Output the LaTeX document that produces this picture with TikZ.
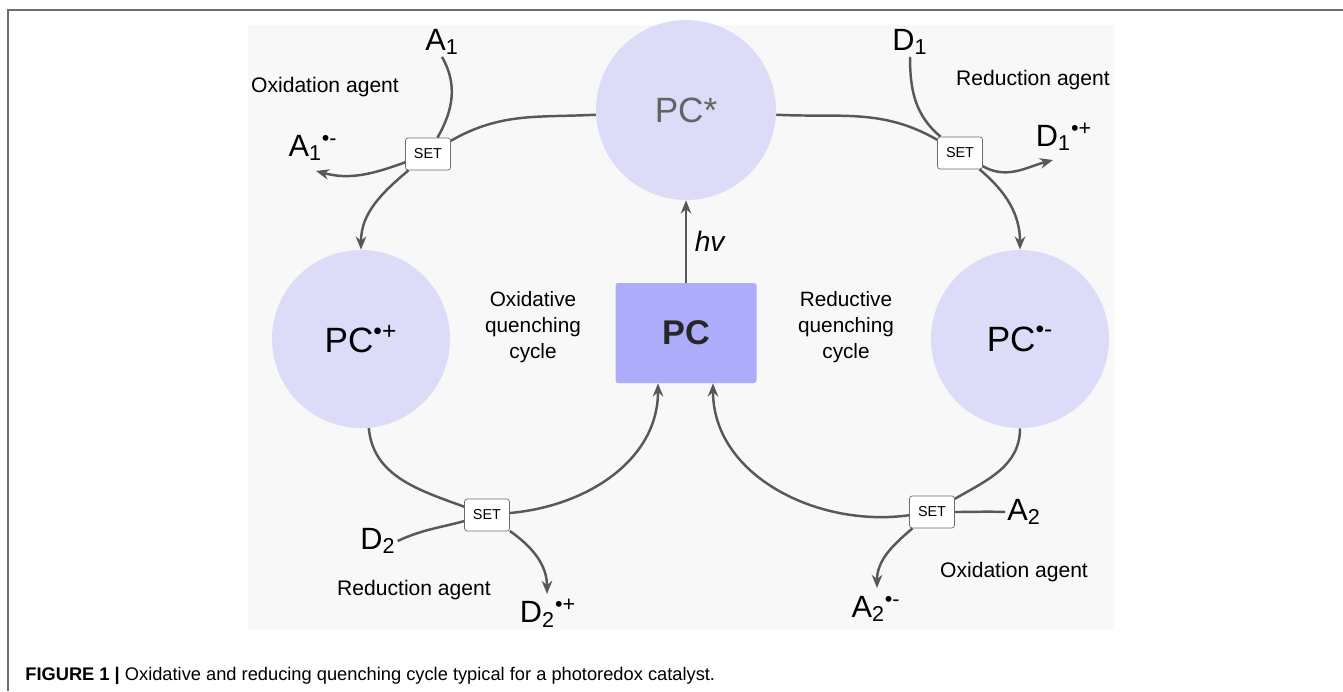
\documentclass[tikz,border=0pt]{standalone}
\usepackage{fontspec}
\setmainfont{Liberation Sans}
\usepackage{tikz}
\usetikzlibrary{arrows.meta, positioning}
\definecolor{pclight}{RGB}{220,220,249}
\definecolor{pcdark}{RGB}{172,172,250}
\definecolor{linkgray}{RGB}{88,88,88}
\definecolor{panelgray}{RGB}{248,248,248}
\definecolor{framegray}{RGB}{110,110,110}
\definecolor{stargray}{RGB}{100,100,100}

\begin{document}
\begin{tikzpicture}[
    x=0.2mm, y=0.2mm,
    every node/.style={font=\fontsize{12}{15}\selectfont},
    state/.style={circle, fill=pclight, minimum size=3.56cm, inner sep=0pt, font=\fontsize{20}{24}\selectfont},
    setbox/.style={draw=gray!85!black, fill=white, rounded corners=1.5pt, minimum width=0.9cm, minimum height=0.64cm, inner sep=0pt, font=\fontsize{8.2}{10}\selectfont},
    species/.style={font=\fontsize{17.5}{20}\selectfont, inner sep=1pt},
    cycletext/.style={align=center, font=\fontsize{11.8}{14.8}\selectfont},
    link/.style={draw=linkgray, line width=1.4pt},
    arr/.style={link, -{Stealth[length=7.5pt, width=6pt]}}
]
\useasboundingbox (0,0) rectangle (1343,-691);
\draw[framegray, line width=0.6pt] (1343,-10) -- (8,-10) -- (8,-691);
\fill[panelgray] (248,-25) rectangle (1114,-630);

% catalyst states
\node[state, minimum size=3.6cm, text=stargray] (pcstar) at (686,-110) {PC*};
\node[state] (pcplus) at (361,-339) {PC\textsuperscript{•+}};
\node[state] (pcminus) at (1020,-339) {PC\textsuperscript{•-}};
\node[fill=pcdark, rounded corners=1.5pt, minimum width=2.82cm, minimum height=2cm, text=black!85, font=\fontsize{19.5}{22}\selectfont\bfseries] (pc) at (686,-333) {PC};

\node[setbox] (set1) at (428,-154) {SET};
\node[setbox] (set2) at (960,-153) {SET};
\node[setbox] (set3) at (487,-515) {SET};
\node[setbox] (set4) at (932,-512) {SET};

\node[species] (a1) at (442,-42) {A\textsubscript{1}};
\node[species] (a1r) at (313,-148) {A\textsubscript{1}\textsuperscript{•-}};
\node[species] (d1) at (910,-42) {D\textsubscript{1}};
\node[species] (d1r) at (1064,-137) {D\textsubscript{1}\textsuperscript{•+}};
\node[species] (d2) at (378,-541) {D\textsubscript{2}};
\node[species] (d2r) at (548,-613) {D\textsubscript{2}\textsuperscript{•+}};
\node[species] (a2) at (1024,-512) {A\textsubscript{2}};
\node[species] (a2r) at (876,-609) {A\textsubscript{2}\textsuperscript{•-}};

\node (ox1) at (325,-87) {Oxidation agent};
\node (red1) at (1033,-80) {Reduction agent};
\node (red2) at (414,-590) {Reduction agent};
\node (ox2) at (1014,-572) {Oxidation agent};

\node[cycletext] (oxcyc) at (533,-327) {Oxidative\\quenching\\cycle};
\node[cycletext] (redcyc) at (846,-327) {Reductive\\quenching\\cycle};

\coordinate (a1tip) at (316,-171);
\coordinate (d1tip) at (1053,-160);
\coordinate (d2tip) at (547,-594);
\coordinate (a2tip) at (877,-588);

% excitation
\draw[arr] (pc.north) -- (pcstar.south) node[midway, right=1pt, font=\fontsize{16}{18}\selectfont\itshape] (hv) {hv};

% oxidative quenching
\draw[link] (pcstar) to[out=183, in=30] (set1);
\draw[link] (a1.south) to[out=-60, in=60] (set1);
\draw[arr] (set1) to[out=200, in=-15] (a1tip);
\draw[arr] (set1) to[out=-140, in=90] (pcplus);
\draw[link] (pcplus) to[out=-85, in=160] (set3);
\draw[link] (d2.east) to[out=25, in=195] (set3);
\draw[arr] (set3) to[out=-35, in=90] (d2tip);
\draw[arr] (set3) to[out=5, in=-90] ([xshift=-0.56cm]pc.south);

% reductive quenching
\draw[link] (pcstar) to[out=-3, in=150] (set2);
\draw[link] (d1.south) to[out=-90, in=140] (set2);
\draw[arr] (set2) to[out=-30, in=195] (d1tip);
\draw[arr] (set2) to[out=-40, in=90] (pcminus);
\draw[link] (pcminus) to[out=-90, in=30] (set4);
\draw[link] (a2.west) to[out=178, in=0] (set4);
\draw[arr] (set4) to[out=-140, in=90] (a2tip);
\draw[arr] (set4) to[out=188, in=-90] ([xshift=0.54cm]pc.south);

\node[anchor=base west, inner sep=0pt, font=\fontsize{10.4}{12}\selectfont] (caption) at (25,-680) {\textbf{FIGURE 1 |} Oxidative and reducing quenching cycle typical for a photoredox catalyst.};
\end{tikzpicture}
\end{document}
